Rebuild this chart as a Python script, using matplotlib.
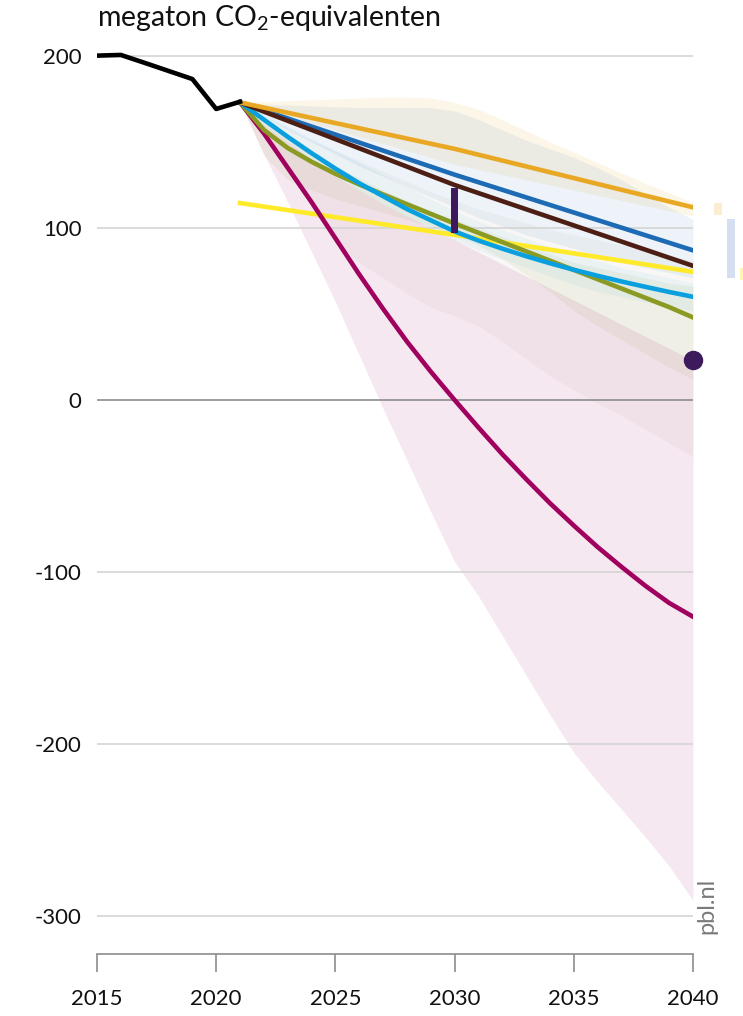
import matplotlib.pyplot as plt
from matplotlib.patches import Rectangle

plt.rcParams['font.family'] = ['Lato', 'DejaVu Sans']
plt.rcParams['mathtext.default'] = 'regular'

# historic emissions
hist_years = [2015, 2016, 2017, 2018, 2019, 2020, 2021]
hist_vals = [200.2, 200.6, 196, 191.3, 186.6, 169.2, 173.4]

# scenario lines
years = list(range(2021, 2041))
key_years = [2021, 2030, 2040]
orange = [173, 146, 112]
darkblue = [173, 131, 87]
brown = [173, 125, 78]
yellow = [114.5, 96, 74.5]
lightblue = [173, 163, 153, 143.5, 134.5, 126, 118.5, 111, 104.5, 98, 92.7, 88, 83.6, 79.5, 75.7, 72.2, 68.9, 65.8, 62.8, 60]
olive = [173, 157, 146.5, 138.5, 131.5, 125.3, 119.5, 113.8, 108.2, 102.6, 97.2, 91.8, 86.4, 81, 75.6, 70.2, 64.8, 59.4, 54, 48]
magenta = [173, 155, 135, 115, 94, 73, 53, 34, 16.5, 0, -16, -31.5, -46, -60, -73, -85.5, -97, -108, -118, -126]

# uncertainty bands
orange_lo = [173, 169, 165, 161, 157, 153, 149, 145, 141, 137, 134, 131, 128, 125, 122, 119, 116, 113, 110, 107]
orange_hi = [173, 173.5, 174, 174.5, 175, 175.5, 176, 176, 175.5, 173, 169, 163, 156.5, 150, 144, 138, 132, 126, 120.5, 115]
blue_lo = [173, 165, 157, 150, 143, 136, 130, 124, 118, 112, 106, 101, 96, 92, 88, 84, 80, 77, 74, 71]
blue_hi = [173, 172, 171.5, 171, 170.5, 170, 170, 170, 170, 168, 163, 157, 151, 146, 141, 135, 128, 120, 112, 105]
cyan_lo = [173, 160, 150, 140, 130, 122, 114, 107, 100, 93, 87, 82, 77, 72, 67, 63, 60, 57, 54, 52]
cyan_hi = [173, 166, 159, 152, 145, 138, 131, 124, 117, 110, 104, 99, 94, 89, 85, 81, 77, 74, 71, 68]
green_lo = [173, 142, 128, 122, 117, 113, 109, 105, 101, 96, 90, 82, 73, 63, 52, 43, 35, 27, 19, 12]
green_hi = [173, 163, 153, 144, 136, 129, 122, 116, 110, 105, 100, 95, 90, 85, 80, 77, 74, 71, 68, 66]
brown_lo = [173, 156, 136, 112, 92, 80, 71, 62, 54, 49, 43, 34, 24, 14, 6, -2, -9, -17, -25, -33]
brown_hi = [173, 165, 158, 151, 145, 139, 133, 127, 121, 116, 111, 107, 103, 99, 96, 93, 90, 87, 84, 81]
pink_lo = [173, 143, 115, 86, 57, 26, -5, -35, -65, -94, -114, -137, -160, -183, -205, -222, -238, -254, -271, -291]
pink_hi = [173, 160, 150, 140, 130, 122, 114, 107, 100, 93, 86, 79, 72, 65, 58, 51, 44, 37, 30, 23]

# target bar 2030 and point 2040
target_2030 = (97.3, 123)
target_2040 = 23.3

# ranges shown right of the plot
side_x = [2040.88, 2041.43, 2041.97]
side_lo = [107.6, 70.9, 69.8]
side_hi = [114.5, 105.2, 76.7]
side_colors = ['#fbecd2', '#d6def1', '#fff4b0']

fig = plt.figure(figsize=(7.43, 10.16), dpi=100)
ax = fig.add_axes([0.13055, 0.0748, 0.80215, 0.8957])

ax.fill_between(years, pink_lo, pink_hi, color='#a0005e', alpha=0.09, lw=0, zorder=1)
ax.fill_between(years, brown_lo, brown_hi, color='#4d1f14', alpha=0.035, lw=0, zorder=1)
ax.fill_between(years, green_lo, green_hi, color='#8a9a22', alpha=0.08, lw=0, zorder=1)
ax.fill_between(years, cyan_lo, cyan_hi, color='#009fe0', alpha=0.05, lw=0, zorder=1)
ax.fill_between(years, blue_lo, blue_hi, color='#1d6bb4', alpha=0.08, lw=0, zorder=1)
ax.fill_between(years, orange_lo, orange_hi, color='#e9a823', alpha=0.1, lw=0, zorder=1)

for v in [200, 100, -100, -200, -300]:
    ax.axhline(v, color='#d4d4d4', lw=1.2, zorder=1.5)
ax.axhline(0, color='#8c8c8c', lw=1.2, zorder=1.5)

lw = 3.3
ax.plot(hist_years, hist_vals, color='black', lw=lw, zorder=4)
ax.plot(key_years, yellow, color='#ffea2a', lw=lw, zorder=3)
ax.plot(years, magenta, color='#a0005e', lw=lw, zorder=3)
ax.plot(years, olive, color='#8a9a22', lw=lw, zorder=3)
ax.plot(years, lightblue, color='#0aa0e0', lw=lw, zorder=3)
ax.plot(key_years, darkblue, color='#1d6bb4', lw=lw, zorder=3)
ax.plot(key_years, brown, color='#4d1f14', lw=lw, zorder=3)
ax.plot(key_years, orange, color='#e9a823', lw=lw, zorder=3)

ax.add_patch(Rectangle((2029.85, target_2030[0]), 0.3, target_2030[1] - target_2030[0],
                       color='#3d1a5b', lw=0, zorder=5))
ax.plot([2040], [target_2040], 'o', color='#3d1a5b', ms=13, clip_on=False, zorder=5)

for x, lo, hi, c in zip(side_x, side_lo, side_hi, side_colors):
    ax.add_patch(Rectangle((x, lo), 0.34, hi - lo, color=c, lw=0, clip_on=False))

ax.set_xlim(2015, 2040)
ax.set_ylim(-313.95, 215.12)

for s in ['top', 'right', 'left']:
    ax.spines[s].set_visible(False)
ax.spines['bottom'].set_position(('outward', 10))
ax.spines['bottom'].set_bounds(2015, 2040)
ax.spines['bottom'].set_color('#8c8c8c')
ax.spines['bottom'].set_linewidth(1.2)

ax.set_xticks([2015, 2020, 2025, 2030, 2035, 2040])
ax.set_yticks([200, 100, 0, -100, -200, -300])
ax.set_yticklabels(['200', '100', '0', '-100', '-200', '-300'])
ax.tick_params(axis='x', direction='out', length=13, width=1.2, color='#8c8c8c',
               pad=12, labelsize=16, labelcolor='#111111')
ax.tick_params(axis='y', length=0, pad=11, labelsize=16, labelcolor='#111111')

fig.text(0.1305, 0.974, 'megaton CO$_2$-equivalenten', fontsize=20.5, color='#111111',
         ha='left', va='baseline')
fig.text(0.951, 0.108, 'pbl.nl', rotation=90, fontsize=17, color='#7a7a7a',
         ha='center', va='center')

fig.savefig('out.png', dpi=100)
